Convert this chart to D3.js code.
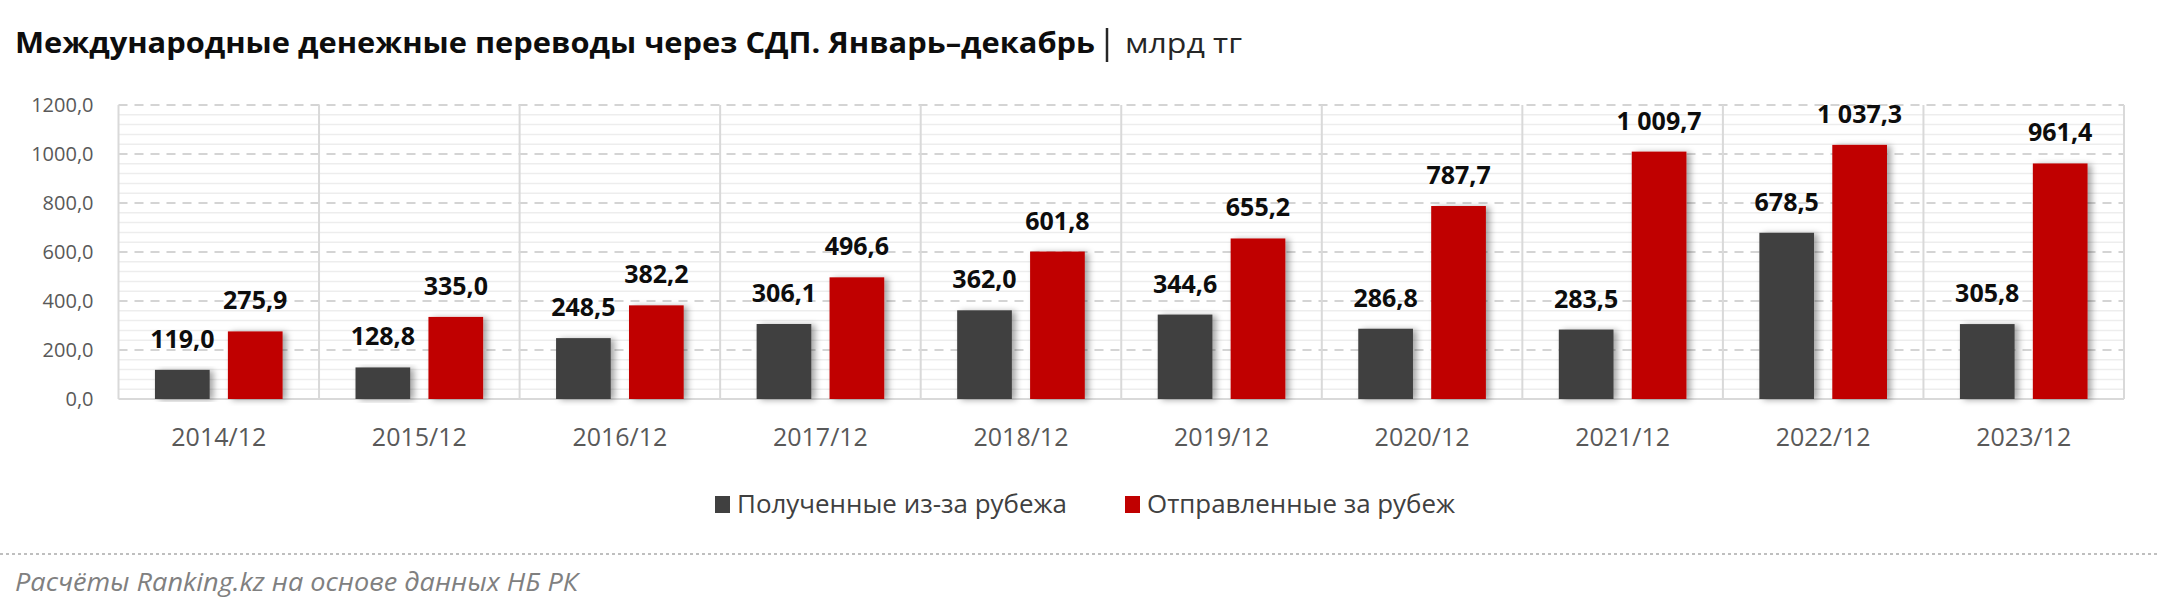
<!DOCTYPE html>
<html>
<head>
<meta charset="utf-8">
<script src="https://cdn.jsdelivr.net/npm/d3@7"></script>
<style>
  body { margin: 0; background: #fff; }
  text { font-family: "Open Sans", "Noto Sans", sans-serif; }
</style>
</head>
<body>
<script>
// categories and series
var categories = ["2014/12", "2015/12", "2016/12", "2017/12", "2018/12",
                  "2019/12", "2020/12", "2021/12", "2022/12", "2023/12"];
var received = [119.0, 128.8, 248.5, 306.1, 362.0, 344.6, 286.8, 283.5, 678.5, 305.8];
var sent = [275.9, 335.0, 382.2, 496.6, 601.8, 655.2, 787.7, 1009.7, 1037.3, 961.4];
var seriesNames = ["Полученные из-за рубежа", "Отправленные за рубеж"];
var seriesColors = ["#404040", "#c00000"];
var yTicks = [0, 200, 400, 600, 800, 1000, 1200];
var titleText = "Международные денежные переводы через СДП. Январь–декабрь";
var unitText = "млрд тг";
var sourceText = "Расчёты Ranking.kz на основе данных НБ РК";

var W = 2160, H = 612;
var plot = {left: 118.5, right: 2124, top: 105, bottom: 399};

var locale = d3.formatLocale({decimal: ",", thousands: " ", grouping: [3], currency: ["", ""]});
var fmtLabel = locale.format(",.1f");
var fmtTick = locale.format(".1f");

var svg = d3.select("body").append("svg")
    .attr("width", W)
    .attr("height", H);

// drop shadow for the bars
var filter = svg.append("defs").append("filter")
    .attr("id", "shadow")
    .attr("x", "-20%").attr("y", "-10%")
    .attr("width", "150%").attr("height", "120%");
filter.append("feDropShadow")
    .attr("dx", 4).attr("dy", 1)
    .attr("stdDeviation", 3)
    .attr("flood-color", "#000")
    .attr("flood-opacity", 0.35);

// scales
var x0 = d3.scaleBand().domain(categories).range([plot.left, plot.right]).padding(0);
var x1 = d3.scaleBand().domain([0, 1]).range([0, x0.bandwidth()])
    .paddingInner(0.25).paddingOuter(0.5);
var y = d3.scaleLinear().domain([0, 1200]).range([plot.bottom, plot.top]);

// minor gridlines
var grid = svg.append("g");
grid.selectAll("line.minor")
    .data(d3.range(40, 1200, 40).filter(function (v) { return v % 200 !== 0; }))
    .enter().append("line")
    .attr("class", "minor")
    .attr("x1", plot.left).attr("x2", plot.right)
    .attr("y1", function (d) { return y(d); })
    .attr("y2", function (d) { return y(d); })
    .attr("stroke", "#ededed")
    .attr("stroke-width", 1.5);

// major gridlines (dashed)
grid.selectAll("line.major")
    .data(yTicks.filter(function (v) { return v > 0; }))
    .enter().append("line")
    .attr("class", "major")
    .attr("x1", plot.left).attr("x2", plot.right)
    .attr("y1", function (d) { return y(d); })
    .attr("y2", function (d) { return y(d); })
    .attr("stroke", "#d4d4d4")
    .attr("stroke-width", 2)
    .attr("stroke-dasharray", "9,7");

// vertical category separators
grid.selectAll("line.sep")
    .data(categories.concat(["end"]))
    .enter().append("line")
    .attr("class", "sep")
    .attr("x1", function (d, i) { return i < categories.length ? x0(d) : plot.right; })
    .attr("x2", function (d, i) { return i < categories.length ? x0(d) : plot.right; })
    .attr("y1", plot.top).attr("y2", plot.bottom)
    .attr("stroke", "#d9d9d9")
    .attr("stroke-width", 2);

// bottom axis line
grid.append("line")
    .attr("x1", plot.left).attr("x2", plot.right)
    .attr("y1", plot.bottom).attr("y2", plot.bottom)
    .attr("stroke", "#d9d9d9")
    .attr("stroke-width", 2);

// bars
var rows = categories.map(function (c, i) {
    return {cat: c, values: [received[i], sent[i]]};
});

var groups = svg.append("g").selectAll("g")
    .data(rows)
    .enter().append("g")
    .attr("transform", function (d) { return "translate(" + x0(d.cat) + ",0)"; });

groups.selectAll("rect")
    .data(function (d) { return d.values.map(function (v, k) { return {k: k, v: v}; }); })
    .enter().append("rect")
    .attr("x", function (d) { return x1(d.k); })
    .attr("width", x1.bandwidth())
    .attr("y", function (d) { return y(d.v); })
    .attr("height", function (d) { return y(0) - y(d.v); })
    .attr("fill", function (d) { return seriesColors[d.k]; })
    .attr("filter", "url(#shadow)");

// data labels
groups.selectAll("text")
    .data(function (d) { return d.values.map(function (v, k) { return {k: k, v: v}; }); })
    .enter().append("text")
    .attr("x", function (d) { return x1(d.k) + x1.bandwidth() / 2; })
    .attr("y", function (d) { return y(d.v) - 22; })
    .attr("text-anchor", "middle")
    .attr("font-size", 25)
    .attr("font-weight", "bold")
    .attr("fill", "#0d0d0d")
    .text(function (d) { return fmtLabel(d.v); });

// y axis labels
var yAxis = svg.append("g")
    .attr("transform", "translate(" + plot.left + ",0)")
    .call(d3.axisLeft(y).tickValues(yTicks).tickSize(0).tickPadding(25).tickFormat(fmtTick));
yAxis.select(".domain").remove();
yAxis.selectAll("text")
    .attr("font-family", "\"Open Sans\", sans-serif")
    .attr("font-size", 20)
    .attr("fill", "#595959");

// x axis labels
var xAxis = svg.append("g")
    .attr("transform", "translate(0," + plot.bottom + ")")
    .call(d3.axisBottom(x0).tickSize(0).tickPadding(29));
xAxis.select(".domain").remove();
xAxis.selectAll("text")
    .attr("font-family", "\"Open Sans\", sans-serif")
    .attr("font-size", 25)
    .attr("fill", "#595959");

// title
svg.append("text")
    .attr("x", 15).attr("y", 53)
    .attr("font-size", 28)
    .attr("font-weight", "bold")
    .attr("fill", "#0d0d0d")
    .attr("textLength", 1080)
    .attr("lengthAdjust", "spacingAndGlyphs")
    .text(titleText);
svg.append("line")
    .attr("x1", 1107).attr("x2", 1107)
    .attr("y1", 28).attr("y2", 62)
    .attr("stroke", "#262626")
    .attr("stroke-width", 2.5);
svg.append("text")
    .attr("x", 1125).attr("y", 53)
    .attr("font-size", 28)
    .attr("fill", "#262626")
    .attr("textLength", 117)
    .attr("lengthAdjust", "spacingAndGlyphs")
    .text(unitText);

// legend
var legendX = [715, 1125];
var legendW = [330, 308];
var legend = svg.append("g").selectAll("g")
    .data(seriesNames)
    .enter().append("g")
    .attr("transform", function (d, i) { return "translate(" + legendX[i] + ",0)"; });
legend.append("rect")
    .attr("x", 0).attr("y", 496)
    .attr("width", 15).attr("height", 17)
    .attr("fill", function (d, i) { return seriesColors[i]; });
legend.append("text")
    .attr("x", 22).attr("y", 513)
    .attr("font-size", 25)
    .attr("fill", "#404040")
    .attr("textLength", function (d, i) { return legendW[i]; })
    .attr("lengthAdjust", "spacingAndGlyphs")
    .text(function (d) { return d; });

// footer
svg.append("line")
    .attr("x1", 0).attr("x2", W)
    .attr("y1", 554).attr("y2", 554)
    .attr("stroke", "#bfbfbf")
    .attr("stroke-width", 2)
    .attr("stroke-dasharray", "3,3");
svg.append("text")
    .attr("x", 15).attr("y", 591)
    .attr("font-size", 26)
    .attr("font-style", "italic")
    .attr("fill", "#808080")
    .attr("textLength", 563)
    .attr("lengthAdjust", "spacingAndGlyphs")
    .text(sourceText);
</script>
</body>
</html>
